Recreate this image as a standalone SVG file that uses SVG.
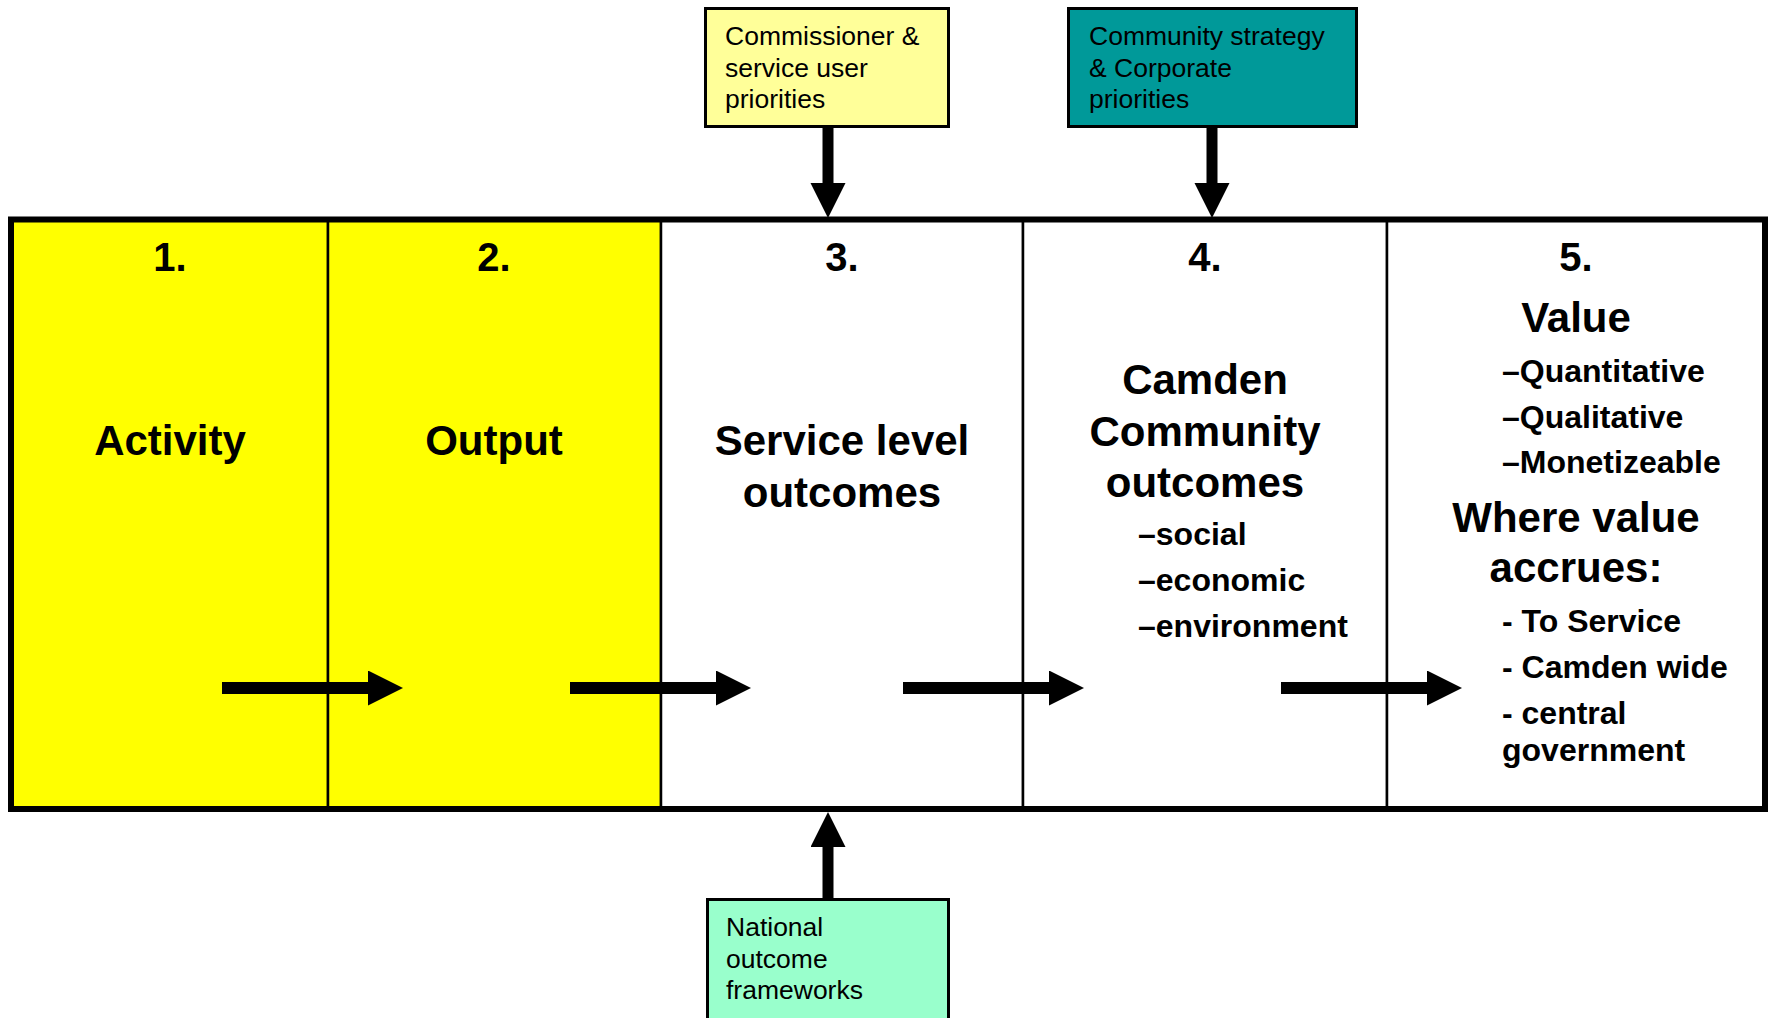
<svg xmlns="http://www.w3.org/2000/svg" width="1769" height="1018" viewBox="0 0 1769 1018">
<style>
text{font-family:"Liberation Sans",Arial,sans-serif;fill:#000}
.num{font-size:40px;font-weight:bold;text-anchor:middle}
.big{font-size:42px;font-weight:bold;text-anchor:middle}
.sub{font-size:32px;font-weight:bold}
.box{font-size:26.5px}
.panel{stroke:#000;stroke-width:2.5}
.tb{stroke:#000;stroke-width:3}
.arr{stroke:#000;stroke-width:12;fill:none;marker-end:url(#ah)}
.varr{stroke:#000;stroke-width:11;fill:none;marker-end:url(#ah)}
</style>
<defs>
<marker id="ah" markerUnits="userSpaceOnUse" markerWidth="36" markerHeight="36" refX="1" refY="17.5" orient="auto">
<path d="M0,0 L35,17.5 L0,35 z" fill="#000"/>
</marker>
</defs>
<rect width="1769" height="1018" fill="#fff"/>
<g id="panel1">
<rect class="panel" x="11" y="219.5" width="317" height="589.5" fill="#FFFF00"/>
<text class="num" x="170" y="271">1.</text>
<text class="big" x="170" y="455">Activity</text>
</g>
<g id="panel2">
<rect class="panel" x="328" y="219.5" width="333" height="589.5" fill="#FFFF00"/>
<text class="num" x="494" y="271">2.</text>
<text class="big" x="494" y="455">Output</text>
</g>
<g id="panel3">
<rect class="panel" x="661" y="219.5" width="362" height="589.5" fill="#fff"/>
<text class="num" x="842" y="271">3.</text>
<text class="big" x="842" y="455">Service level</text>
<text class="big" x="842" y="507">outcomes</text>
</g>
<g id="panel4">
<rect class="panel" x="1023" y="219.5" width="364" height="589.5" fill="#fff"/>
<text class="num" x="1205" y="271">4.</text>
<text class="big" x="1205" y="394">Camden</text>
<text class="big" x="1205" y="446">Community</text>
<text class="big" x="1205" y="497">outcomes</text>
<text class="sub" x="1138" y="545">–social</text>
<text class="sub" x="1138" y="591">–economic</text>
<text class="sub" x="1138" y="637">–environment</text>
</g>
<g id="panel5">
<rect class="panel" x="1387" y="219.5" width="378" height="589.5" fill="#fff"/>
<text class="num" x="1576" y="271">5.</text>
<text class="big" x="1576" y="332">Value</text>
<text class="sub" x="1502" y="382">–Quantitative</text>
<text class="sub" x="1502" y="428">–Qualitative</text>
<text class="sub" x="1502" y="473">–Monetizeable</text>
<text class="big" x="1576" y="532">Where value</text>
<text class="big" x="1576" y="582">accrues:</text>
<text class="sub" x="1502" y="632">- To Service</text>
<text class="sub" x="1502" y="678">- Camden wide</text>
<text class="sub" x="1502" y="724">- central</text>
<text class="sub" x="1502" y="761">government</text>
</g>
<rect x="11" y="219.5" width="1754" height="589.5" fill="none" stroke="#000" stroke-width="6"/>
<g id="commissioner">
<rect class="tb" x="705.5" y="8.5" width="243" height="118" fill="#FFFF99"/>
<text class="box" x="725" y="45">Commissioner &amp;</text>
<text class="box" x="725" y="76.5">service user</text>
<text class="box" x="725" y="108">priorities</text>
</g>
<g id="community">
<rect class="tb" x="1068.5" y="8.5" width="288" height="118" fill="#009999"/>
<text class="box" x="1089" y="45">Community strategy</text>
<text class="box" x="1089" y="76.5">&amp; Corporate</text>
<text class="box" x="1089" y="108">priorities</text>
</g>
<g id="national">
<rect class="tb" x="707.5" y="899.5" width="241" height="130" fill="#99FFCC"/>
<text class="box" x="726" y="936">National</text>
<text class="box" x="726" y="967.5">outcome</text>
<text class="box" x="726" y="999">frameworks</text>
</g>
<g id="connectors">
<path class="arr" d="M222,688 H369"/>
<path class="arr" d="M570,688 H717"/>
<path class="arr" d="M903,688 H1050"/>
<path class="arr" d="M1281,688 H1428"/>
<path class="varr" d="M828,128 V184"/>
<path class="varr" d="M1212,128 V184"/>
<path class="varr" d="M828,898 V846"/>
</g>
</svg>
